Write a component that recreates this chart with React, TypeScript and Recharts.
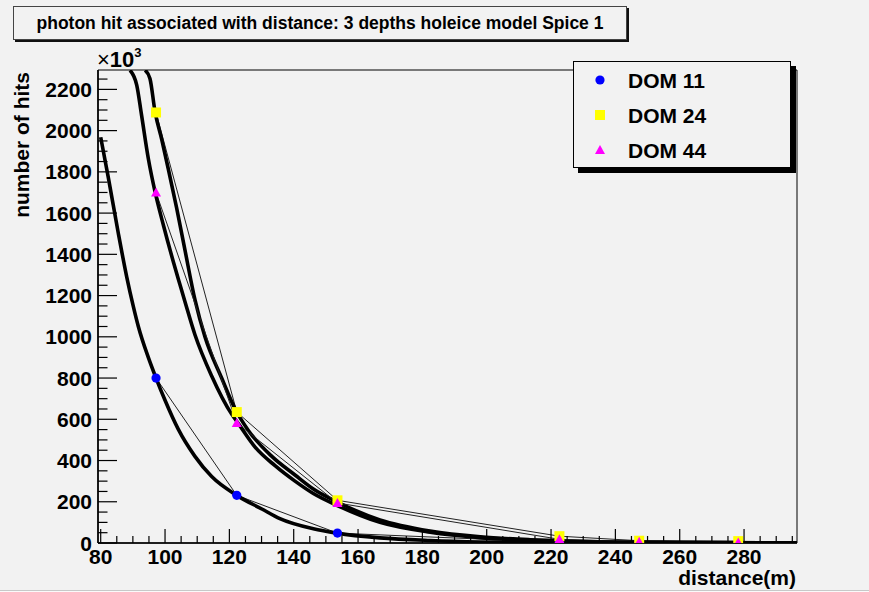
import React from 'react'
import { LineChart, Line, XAxis, YAxis, ReferenceArea } from 'recharts'

const FONT = '"Liberation Sans", Arial, Helvetica, sans-serif'
const BG = '#f2f2f2'

// DOM positions along the string (m) and photon hits (x10^3)
const distances = [97.2, 122.3, 153.6, 222.6, 247.4, 278.2]
const dom11Hits = [800, 231, 48, 3, 2, 1.5]
const dom24Hits = [2088, 635, 207, 33, 11, 9]
const dom44Hits = [1700, 582, 194, 18, 6, 3]

// fitted curves, sampled along the drawn fit
const fit11X = [80.0, 82.4, 85.5, 88.1, 90.1, 91.7, 94.8, 97.2, 100.0, 104.1, 109.3, 114.5, 122.3, 130.1, 135.7, 146.1, 153.4, 166.8, 182.4, 198, 215, 235, 260, 296.4]
const fit11Y = [1968, 1770, 1500, 1290, 1150, 1050, 900, 800, 692, 552, 420, 322, 231, 165, 118, 69, 48, 25, 12, 5, 2.5, 1, 0.4, 0.1]

const fit24X = [93.8, 95.3, 96.9, 99.0, 101.0, 103.6, 106.2, 109.3, 112.4, 117.6, 121.8, 125.9, 133.2, 140.4, 146.1, 153.4, 166.8, 182.4, 198, 213.5, 222.2, 240, 260, 296.4]
const fit24Y = [2293, 2253, 2091, 1955, 1815, 1625, 1420, 1180, 1000, 800, 650, 546, 420, 330, 262, 200, 112, 58, 30, 16, 11, 5, 2.5, 0.8]

const fit44X = [89.1, 91.2, 92.7, 94.8, 96.9, 99.5, 102.6, 104.7, 106.2, 109.3, 114.5, 120.7, 122.8, 128.0, 134.2, 140.4, 146.1, 153.4, 166.8, 182.4, 198, 213.5, 222.2, 240, 260, 296.4]
const fit44Y = [2293, 2221, 2075, 1865, 1703, 1541, 1363, 1250, 1170, 1010, 810, 625, 579, 465, 375, 300, 240, 183, 100, 52, 26, 13, 8, 4, 2, 0.5]

const xTicks = [
  80, 85, 90, 95, 100, 105, 110, 115, 120, 125, 130, 135, 140, 145, 150, 155,
  160, 165, 170, 175, 180, 185, 190, 195, 200, 205, 210, 215, 220, 225, 230,
  235, 240, 245, 250, 255, 260, 265, 270, 275, 280, 285, 290, 295,
]
const yTicks = [
  0, 50, 100, 150, 200, 250, 300, 350, 400, 450, 500, 550, 600, 650, 700, 750,
  800, 850, 900, 950, 1000, 1050, 1100, 1150, 1200, 1250, 1300, 1350, 1400,
  1450, 1500, 1550, 1600, 1650, 1700, 1750, 1800, 1850, 1900, 1950, 2000,
  2050, 2100, 2150, 2200, 2250,
]

const X_DOMAIN: [number, number] = [79.16, 296.46]
const Y_DOMAIN: [number, number] = [0, 2294]

const rows = (xs: number[], ys: number[]) => xs.map((x, i) => ({ x, y: ys[i] }))

const labelStyle = { fontFamily: FONT, fontWeight: 700, fontSize: 21, fill: '#000' }

function XTick({ x, y, payload }: any) {
  const v = payload.value
  const major = v % 20 === 0
  return (
    <g>
      <line x1={x} x2={x} y1={y} y2={y - (major ? 14 : 7)} stroke="#000" strokeWidth={1.2} />
      {major && (
        <text x={x} y={y + 21} textAnchor="middle" style={labelStyle}>
          {v}
        </text>
      )}
    </g>
  )
}

function YTick({ x, y, payload }: any) {
  const v = payload.value
  const major = v % 200 === 0
  return (
    <g>
      <line x1={x} x2={x + (major ? 19 : 9.5)} y1={y} y2={y} stroke="#000" strokeWidth={1.2} />
      {major && (
        <text x={x - 6} y={y + 7.5} textAnchor="end" style={labelStyle}>
          {v}
        </text>
      )}
    </g>
  )
}

function Circle({ cx, cy, size = 4.6 }: any) {
  return <circle cx={cx} cy={cy} r={size} fill="#0000ff" />
}
function Square({ cx, cy }: any) {
  return <rect x={cx - 5} y={cy - 5} width={10} height={10} fill="#ffff00" />
}
function Triangle({ cx, cy }: any) {
  return <polygon points={`${cx - 5},${cy + 4} ${cx + 5},${cy + 4} ${cx},${cy - 5}`} fill="#ff00ff" />
}

const series = [
  { name: 'DOM 11', hits: dom11Hits, fitX: fit11X, fitY: fit11Y, Marker: Circle },
  { name: 'DOM 24', hits: dom24Hits, fitX: fit24X, fitY: fit24Y, Marker: Square },
  { name: 'DOM 44', hits: dom44Hits, fitX: fit44X, fitY: fit44Y, Marker: Triangle },
]

export default function App() {
  return (
    <div
      style={{
        position: 'absolute',
        left: 0,
        top: 0,
        width: 869,
        height: 592,
        background: '#fafafa',
        fontFamily: FONT,
      }}
    >
      <div
        style={{
          position: 'absolute',
          left: 0,
          top: 0,
          width: 869,
          height: 590,
          background: BG,
          borderBottom: '1px solid #c8c8c8',
        }}
      />
      <div style={{ position: 'absolute', left: 0, top: 0 }}>
        <LineChart width={869} height={592} margin={{ top: 70, right: 72, bottom: 9, left: 8 }}>
          <XAxis
            type="number"
            dataKey="x"
            domain={X_DOMAIN}
            allowDataOverflow
            ticks={xTicks}
            interval={0}
            tickSize={0}
            tickMargin={0}
            tickLine={false}
            tick={<XTick />}
            axisLine={{ stroke: '#000', strokeWidth: 1.6 }}
            height={40}
            label={{
              content: () => (
                <text x={796} y={585} textAnchor="end" style={labelStyle}>
                  distance(m)
                </text>
              ),
            }}
          />
          <YAxis
            type="number"
            domain={Y_DOMAIN}
            allowDataOverflow
            ticks={yTicks}
            interval={0}
            tickSize={0}
            tickMargin={0}
            tickLine={false}
            tick={<YTick />}
            axisLine={{ stroke: '#000', strokeWidth: 1.6 }}
            width={90}
            label={{
              content: () => (
                <g>
                  <text transform="translate(29,72) rotate(-90)" textAnchor="end" style={labelStyle}>
                    number of hits
                  </text>
                  <text x={97} y={67} style={{ ...labelStyle, fontSize: 22 }}>
                    <tspan style={{ fontWeight: 400 }}>×</tspan>10
                    <tspan dy={-10} style={{ fontSize: 13 }}>
                      3
                    </tspan>
                  </text>
                </g>
              ),
            }}
          />
          <ReferenceArea
            x1={X_DOMAIN[0]}
            x2={X_DOMAIN[1]}
            y1={Y_DOMAIN[0]}
            y2={Y_DOMAIN[1]}
            fill="none"
            stroke="#000"
            strokeWidth={1}
          />
          {series.flatMap((s) => [
            <Line
              key={s.name + '-pts'}
              data={rows(distances, s.hits)}
              dataKey="y"
              type="linear"
              stroke="#222"
              strokeWidth={1}
              dot={(p: any) => <s.Marker key={`${s.name}-${p.index}`} cx={p.cx} cy={p.cy} />}
              activeDot={false}
              isAnimationActive={false}
            />,
            <Line
              key={s.name + '-fit'}
              data={rows(s.fitX, s.fitY)}
              dataKey="y"
              type="monotone"
              stroke="#000"
              strokeWidth={3.6}
              dot={false}
              activeDot={false}
              isAnimationActive={false}
            />,
          ])}
        </LineChart>
      </div>

      {/* title box */}
      <div
        style={{
          position: 'absolute',
          left: 13,
          top: 6,
          width: 612,
          height: 32,
          background: BG,
          border: '1px solid #444',
          boxShadow: '2px 2px 0 #111',
          textAlign: 'center',
          lineHeight: '32px',
          fontSize: 17.5,
          fontWeight: 700,
          color: '#000',
          whiteSpace: 'nowrap',
        }}
      >
        photon hit associated with distance: 3 depths holeice model Spice 1
      </div>

      {/* legend */}
      <div
        style={{
          position: 'absolute',
          left: 573,
          top: 61,
          width: 216,
          height: 105,
          background: BG,
          border: '1px solid #000',
          boxShadow: '5px 5px 0 #000',
        }}
      >
        <svg width={216} height={105} style={{ display: 'block' }}>
          {series.map((s, i) => {
            const cy = 18 + i * 35
            return (
              <g key={s.name}>
                <s.Marker cx={26} cy={cy} />
                <text x={54} y={cy + 7.5} style={labelStyle}>
                  {s.name}
                </text>
              </g>
            )
          })}
        </svg>
      </div>
    </div>
  )
}
